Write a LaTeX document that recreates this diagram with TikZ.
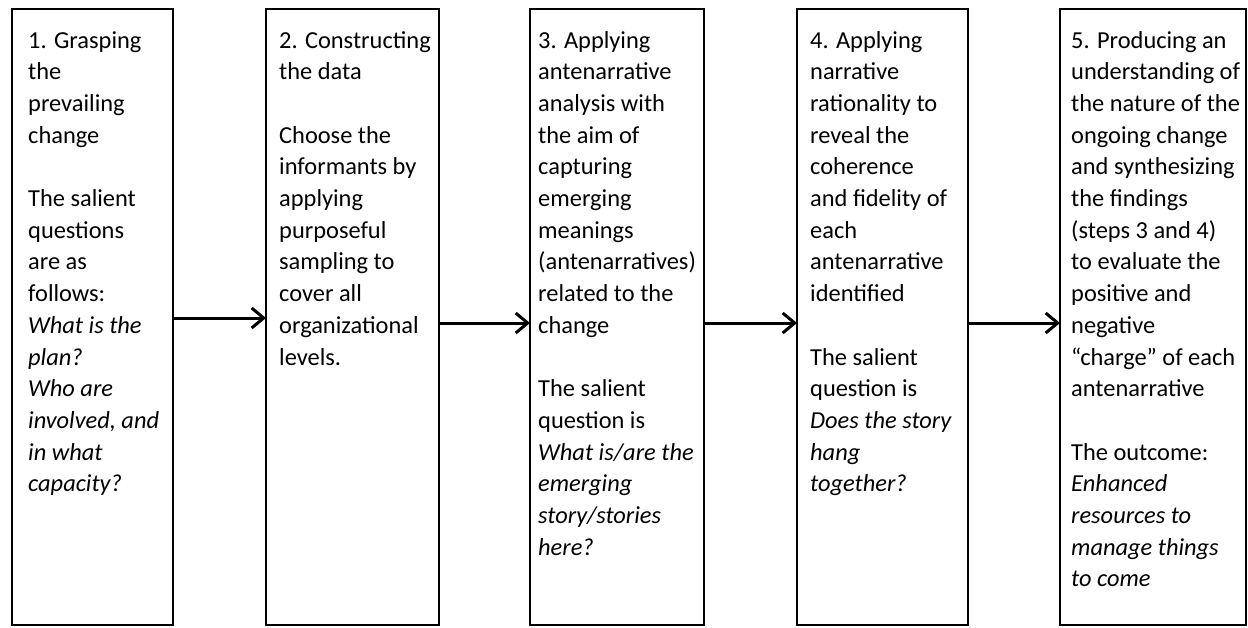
\documentclass[tikz,border=0pt]{standalone}
\usepackage{fontspec}
\setmainfont{Carlito}
\usetikzlibrary{arrows.meta}
\begin{document}
\begin{tikzpicture}[x=1pt,y=-1pt,
  box/.style={draw, line width=2pt, inner sep=0pt, outer sep=0pt, anchor=north west, minimum height=616pt},
  txt/.style={anchor=base west, inner sep=0pt, align=left, font=\fontsize{24.4}{31.7}\selectfont},
  flow/.style={line width=3pt, -{Straight Barb[length=12pt,width=20pt,line width=3pt]}}]
\useasboundingbox (0,0) rectangle (1248,627);

\node[box, minimum width=161pt] (b1) at (12,9) {};
\node[box, minimum width=173pt] (b2) at (266,9) {};
\node[box, minimum width=174pt] (b3) at (530,9) {};
\node[box, minimum width=171pt] (b4) at (797,9) {};
\node[box, minimum width=186pt] (b5) at (1060,9) {};

% anchor = baseline of the last line
\node[txt] (t1) at (28,491.8) {1. Grasping\\the\\prevailing\\change\\[31.7pt]The salient\\questions\\are as\\follows:\\\textit{What is the}\\\textit{plan?}\\\textit{Who are}\\\textit{involved, and}\\\textit{in what}\\\textit{capacity?}};

\node[txt] (t2) at (279,365) {2. Constructing\\the data\\[31.7pt]Choose the\\informants by\\applying\\purposeful\\sampling to\\cover all\\organizational\\levels.};

\node[txt] (t3) at (538,555.2) {3. Applying\\antenarrative\\analysis with\\the aim of\\capturing\\emerging\\meanings\\(antenarratives)\\related to the\\change\\[31.7pt]The salient\\question is\\\textit{What is/are the}\\\textit{emerging}\\\textit{story/stories}\\\textit{here?}};

\node[txt] (t4) at (810,491.8) {4. Applying\\narrative\\rationality to\\reveal the\\coherence\\and fidelity of\\each\\antenarrative\\identified\\[31.7pt]The salient\\question is\\\textit{Does the story}\\\textit{hang}\\\textit{together?}};

\node[txt] (t5) at (1071,586.9) {5. Producing an\\understanding of\\the nature of the\\ongoing change\\and synthesizing\\the findings\\(steps 3 and 4)\\to evaluate the\\positive and\\negative\\“charge” of each\\antenarrative\\[31.7pt]The outcome:\\\textit{Enhanced}\\\textit{resources to}\\\textit{manage things}\\\textit{to come}};

\draw[flow] ([yshift=-1pt]b1.east) -- ([yshift=-1pt]b2.west);
\draw[flow] ([yshift=-6pt]b2.east) -- ([yshift=-6pt]b3.west);
\draw[flow] ([yshift=-6pt]b3.east) -- ([yshift=-6pt]b4.west);
\draw[flow] ([yshift=-6pt]b4.east) -- ([yshift=-6pt]b5.west);
\end{tikzpicture}
\end{document}
